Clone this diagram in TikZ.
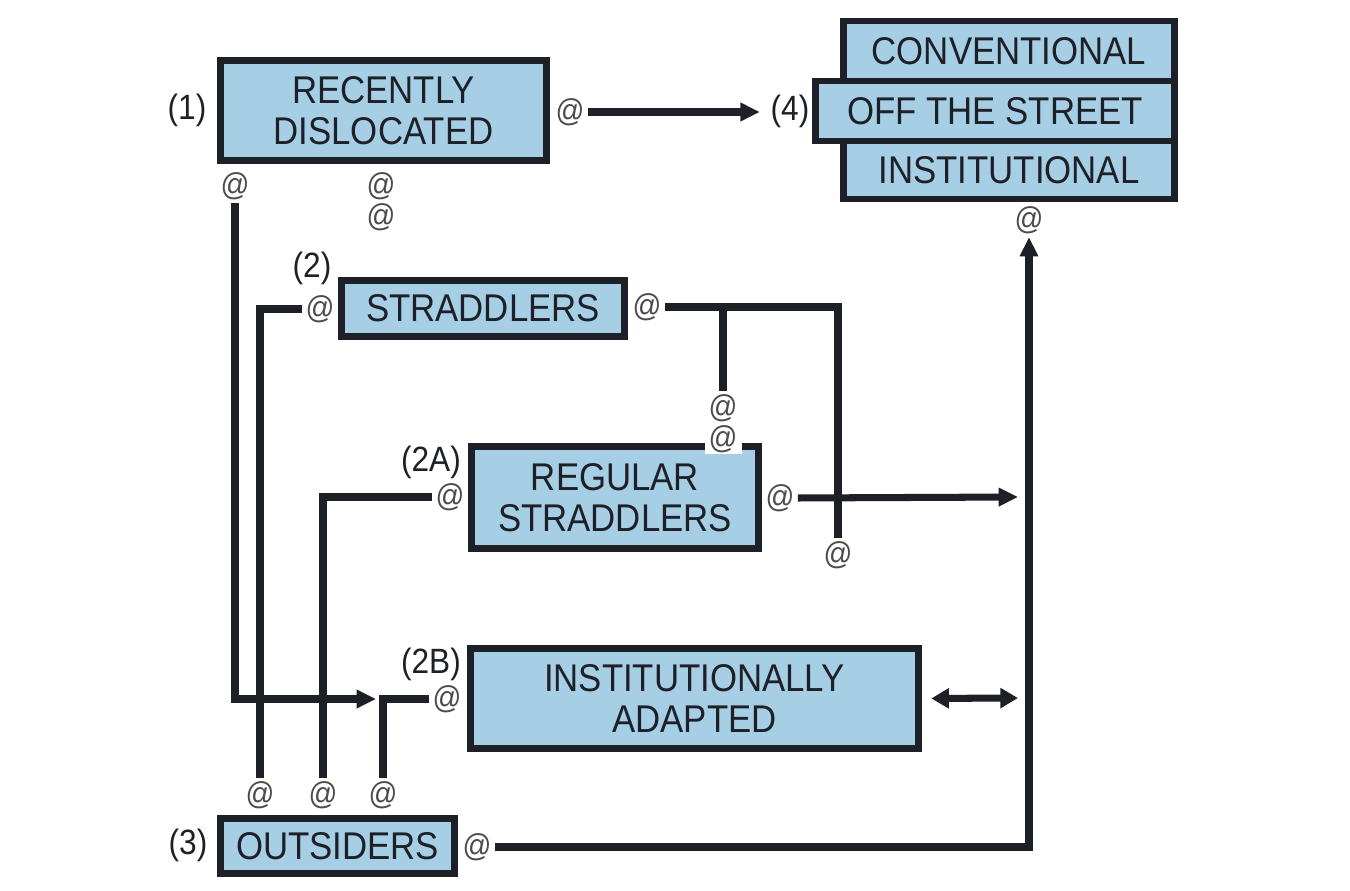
\documentclass[tikz,border=0pt]{standalone}
\usepackage{fontspec}
\setmainfont{Liberation Sans}[FakeStretch=0.9]
\usetikzlibrary{arrows.meta}
\definecolor{boxfill}{RGB}{166,206,228}
\definecolor{ink}{RGB}{30,32,40}

\begin{document}
\begin{tikzpicture}[x=0.02cm, y=-0.02cm,
  catbox/.style={draw=ink, fill=boxfill, line width=3.6pt, text=ink, align=center, inner sep=0pt, font=\fontsize{22}{23}\selectfont},
  num/.style={text=ink, inner sep=2pt, font=\fontsize{20}{22}\selectfont},
  atmark/.style={text=black!70, inner sep=1pt, outer sep=1pt, font=\fontsize{18}{19}\selectfont},
  wire/.style={draw=ink, line width=4pt},
  arrowed/.style={-{Triangle[length=11pt, width=10pt]}},
  both/.style={{Triangle[length=10pt, width=11pt]}-{Triangle[length=10pt, width=11pt]}}]

  \useasboundingbox (0,0) rectangle (1350,891);

  % Draw the boxes
  \node[catbox, minimum width=6.52cm, minimum height=2.0cm] (rec) at (383.5,110.5) {RECENTLY\\DISLOCATED};
  \node[catbox, minimum width=6.62cm, minimum height=1.19cm] (conv) at (1009,51) {CONVENTIONAL};
  \node[catbox, minimum width=6.62cm, minimum height=1.16cm] (inst) at (1009,170) {INSTITUTIONAL};
  \node[catbox, minimum width=7.18cm, minimum height=1.2cm] (offst) at (995,111) {OFF THE STREET};
  \node[catbox, minimum width=5.66cm, minimum height=1.12cm] (strad) at (483,308.5) {STRADDLERS};
  \node[catbox, minimum width=5.74cm, minimum height=2.04cm] (reg) at (615,497.5) {REGULAR\\STRADDLERS};
  \node[catbox, minimum width=8.96cm, minimum height=2.0cm] (ia) at (694.5,698.5) {INSTITUTIONALLY\\ADAPTED};
  \node[catbox, minimum width=4.68cm, minimum height=1.1cm] (out) at (337.5,846) {OUTSIDERS};

  % Numbers
  \node[num] (n1) at (187,110) {(1)};
  \node[num] (n2) at (312,268) {(2)};
  \node[num] (n2a) at (431,462) {(2A)};
  \node[num] (n2b) at (431,664) {(2B)};
  \node[num] (n3) at (188,845) {(3)};
  \node[num] (n4) at (790,111) {(4)};

  % The @ marks
  \node[atmark] (a1r) at (570,112) {@};
  \node[atmark] (a1b) at (235,186) {@};
  \node[atmark] (a1c1) at (381,186) {@};
  \node[atmark] (a1c2) at (381,217) {@};
  \node[atmark] (a4) at (1029,220) {@};
  \node[atmark] (a2l) at (320,309) {@};
  \node[atmark] (a2r) at (647,307) {@};
  \node[atmark] (a2d1) at (723,408) {@};
  \node[atmark, fill=white, minimum width=0.74cm, minimum height=0.5cm] (a2d2) at (723,439) {@};
  \node[atmark] (a2e) at (838,555) {@};
  \node[atmark] (aAl) at (450,497) {@};
  \node[atmark] (aAr) at (780,498) {@};
  \node[atmark] (aBl) at (447,699) {@};
  \node[atmark] (a3u1) at (260,795) {@};
  \node[atmark] (a3u2) at (323,795) {@};
  \node[atmark] (a3u3) at (383,795) {@};
  \node[atmark] (a3r) at (477,847) {@};

  % Free ends of the arrows
  \coordinate (tipB) at (376,699);
  \coordinate (tipA) at (1018,497);
  \coordinate (tipC) at (1018,698);

  % Draw the connectors
  \draw[wire, arrowed, shorten >=4pt] (a1r.east) -- (a1r.east -| n4.west);
  \draw[wire, arrowed] (a1b.south) |- (tipB);
  \draw[wire] (a2l.west) -| (a3u1.north);
  \draw[wire] (aAl.west) -| (a3u2.north);
  \draw[wire] (aBl.west) -| (a3u3.north);
  \draw[wire] (a2r.east) -| (a2e.north);
  \draw[wire] (a2r.east -| a2d1.north) -- (a2d1.north);
  \draw[wire, arrowed] (aAr.east) -- (tipA);
  \draw[wire, both, shorten <=5.5pt] (ia.east) -- (tipC);
  \draw[wire, arrowed] (a3r.east) -| (a4.south);

\end{tikzpicture}
\end{document}
